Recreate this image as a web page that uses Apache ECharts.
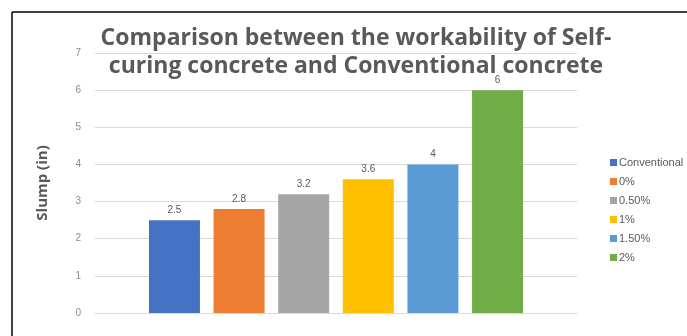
<!DOCTYPE html>
<html lang="en">
<head>
    <meta charset="UTF-8">
    <title>slump</title>
    <script src="https://cdn.jsdelivr.net/npm/echarts@6/dist/echarts.min.js"></script>
</head>
<body style="margin:0;">
<div id="main" style="width: 687px;height:336px;"></div>
</body>

<script type="text/javascript">

    var seriesNames = ['Conventional', '0%', '0.50%', '1%', '1.50%', '2%'];
    var slumpValues = [2.5, 2.8, 3.2, 3.6, 4, 6];
    var barColors = ['#4472C4', '#ED7D31', '#A5A5A5', '#FFC000', '#5B9BD5', '#70AD47'];
    var yTicks = [0, 1, 2, 3, 4, 5, 6, 7];

    var series = [];
    for (var i = 0; i < seriesNames.length; i++) {
        series.push({
            name: seriesNames[i],
            type: 'bar',
            data: [slumpValues[i]],
            barWidth: 51,
            barGap: '26.7%',
            itemStyle: {color: barColors[i]},
            label: {
                show: true,
                position: 'top',
                distance: 5,
                color: '#595959',
                fontSize: 10,
                fontFamily: 'Liberation Sans'
            }
        });
    }

    var myChart = echarts.init(document.getElementById('main'));

    var option = {
        backgroundColor: '#fff',
        animation: false,
        title: {
            text: 'Comparison between the workability of Self-\ncuring concrete and Conventional concrete',
            left: 356,
            top: 24,
            padding: 0,
            textAlign: 'center',
            textStyle: {
                color: '#595959',
                fontFamily: 'Open Sans',
                fontWeight: 'bold',
                fontSize: 23,
                lineHeight: 28
            }
        },
        legend: {
            orient: 'vertical',
            left: 605,
            top: 152,
            icon: 'rect',
            itemWidth: 7,
            itemHeight: 7,
            itemGap: 8,
            data: seriesNames,
            textStyle: {
                color: '#595959',
                fontSize: 11,
                fontFamily: 'Liberation Sans',
                padding: [0, 0, 0, -3]
            }
        },
        grid: {
            left: 95,
            right: 110,
            top: 53,
            bottom: 23
        },
        xAxis: {
            type: 'category',
            data: [''],
            axisLine: {lineStyle: {color: '#d9d9d9'}},
            axisTick: {show: false},
            axisLabel: {show: false}
        },
        yAxis: {
            type: 'value',
            min: yTicks[0],
            max: yTicks[yTicks.length - 1],
            interval: 1,
            name: 'Slump (in)',
            nameLocation: 'middle',
            nameRotate: 90,
            nameGap: 45,
            nameTextStyle: {
                color: '#595959',
                fontFamily: 'Open Sans',
                fontWeight: 'bold',
                fontSize: 15
            },
            axisLine: {show: false},
            axisTick: {show: false},
            axisLabel: {
                color: '#8c8c8c',
                fontSize: 10,
                margin: 14,
                fontFamily: 'Liberation Sans'
            },
            splitLine: {lineStyle: {color: '#d9d9d9'}}
        },
        graphic: [
            {type: 'line', shape: {x1: 12, y1: 12, x2: 687, y2: 12}, style: {stroke: '#000', lineWidth: 1.5}},
            {type: 'line', shape: {x1: 12, y1: 12, x2: 12, y2: 336}, style: {stroke: '#000', lineWidth: 1.5}}
        ],
        series: series
    };

    myChart.setOption(option);

</script>
</html>
